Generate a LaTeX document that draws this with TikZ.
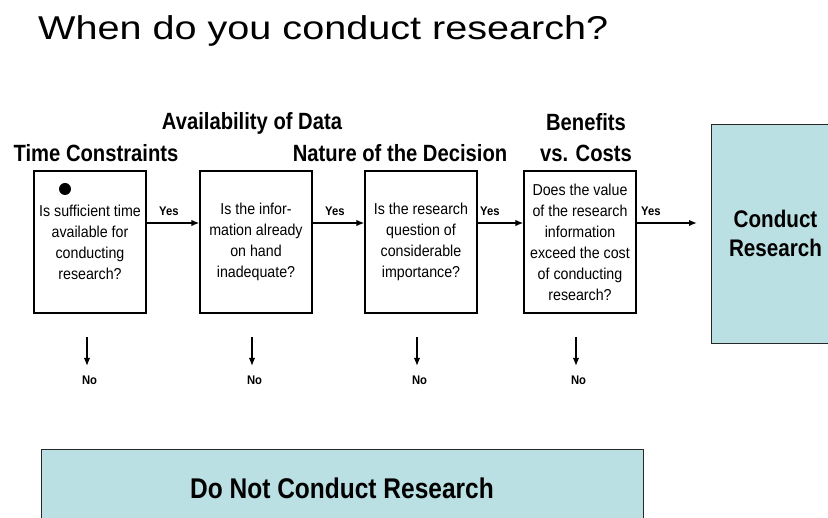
\documentclass[tikz,border=0pt]{standalone}
\usepackage{fontspec}
\setmainfont{Liberation Sans}
\newfontfamily\ttlfont{Liberation Sans}[FakeStretch=1.2]
\newfontfamily\hdfont{Liberation Sans}[FakeStretch=0.86]
\newfontfamily\bodyfont{Liberation Sans}[FakeStretch=0.9]
\usetikzlibrary{arrows.meta}
\definecolor{boxblue}{RGB}{187,224,227}
\definecolor{edgegray}{RGB}{40,40,40}
\tikzset{
  heading/.style={inner sep=0pt, anchor=base, font=\hdfont\bfseries\fontsize{23.5}{31}\selectfont, align=center},
  qbox/.style={draw=black, line width=1.1pt, minimum width=112pt, minimum height=142pt, inner sep=0pt,
     align=center, font=\bodyfont\fontsize{15.8}{21}\selectfont},
  result/.style={draw=edgegray, line width=0.9pt, fill=boxblue, inner sep=0pt, align=center,
     font=\hdfont\bfseries},
  yeslbl/.style={inner sep=0pt, anchor=base west, font=\bodyfont\bfseries\fontsize{12.5}{15}\selectfont},
  nolbl/.style={inner sep=0pt, anchor=north, font=\bodyfont\bfseries\fontsize{12.5}{15}\selectfont},
  flow/.style={line width=1.8pt, -{Latex[length=8pt,width=6.5pt]}},
  noflow/.style={line width=1.5pt, -{Latex[length=8pt,width=6.5pt]}}
}
\begin{document}
\begin{tikzpicture}[x=1pt,y=-1pt]
\path[use as bounding box, fill=white] (0,0) rectangle (828,518);

% title
\node[inner sep=0pt, anchor=base west, font=\ttlfont\fontsize{33}{38}\selectfont] (title) at (38,40) {When do you conduct research?};

% headings
\node[heading] (h1) at (96,162) {Time Constraints};
\node[heading] (h2) at (252,130) {Availability of Data};
\node[heading] (h3) at (400,162) {Nature of the Decision};
\node[heading, anchor=center] (h4) at (586,138) {Benefits\\vs. Costs};

% question boxes
\node[qbox] (b1) at (90,242) {Is sufficient time\\available for\\conducting\\research?};
\node[qbox] (b2) at (256,242) {Is the infor-\\mation already\\on hand\\inadequate?};
\node[qbox] (b3) at (421,242) {Is the research\\question of\\considerable\\importance?};
\node[qbox] (b4) at (580,242) {Does the value\\of the research\\information\\exceed the cost\\of conducting\\research?};
\node[circle, fill=black, inner sep=0pt, minimum size=12pt] (dot) at (65,189) {};

% result boxes
\node[result, minimum width=129pt, minimum height=219pt, font=\hdfont\bfseries\fontsize{24}{29}\selectfont] (cr) at (775.5,233.5) {Conduct\\Research};
\node[result, minimum width=602pt, minimum height=78pt, font=\hdfont\bfseries\fontsize{28.5}{34}\selectfont] (dn) at (342,488) {Do Not Conduct Research};

% yes arrows
\coordinate (yend) at (697,223);
\draw[flow] ([yshift=19pt]b1.east) -- ([yshift=19pt]b2.west);
\draw[flow] ([yshift=19pt]b2.east) -- ([yshift=19pt]b3.west);
\draw[flow] ([yshift=19pt]b3.east) -- ([yshift=19pt]b4.west);
\draw[flow] ([yshift=19pt]b4.east) -- (yend);
\node[yeslbl] (y1) at (159,216) {Yes};
\node[yeslbl] (y2) at (325,216) {Yes};
\node[yeslbl] (y3) at (480,216) {Yes};
\node[yeslbl] (y4) at (641,216) {Yes};

% no arrows
\coordinate (t1) at (87,337);
\coordinate (t2) at (252,337);
\coordinate (t3) at (417,337);
\coordinate (t4) at (576,337);
\node[nolbl] (n1) at (89.5,376) {No};
\node[nolbl] (n2) at (254.5,376) {No};
\node[nolbl] (n3) at (419.5,376) {No};
\node[nolbl] (n4) at (578.5,376) {No};
\draw[noflow] (t1) -- (t1 |- 0,366);
\draw[noflow] (t2) -- (t2 |- 0,366);
\draw[noflow] (t3) -- (t3 |- 0,366);
\draw[noflow] (t4) -- (t4 |- 0,366);
\end{tikzpicture}
\end{document}
